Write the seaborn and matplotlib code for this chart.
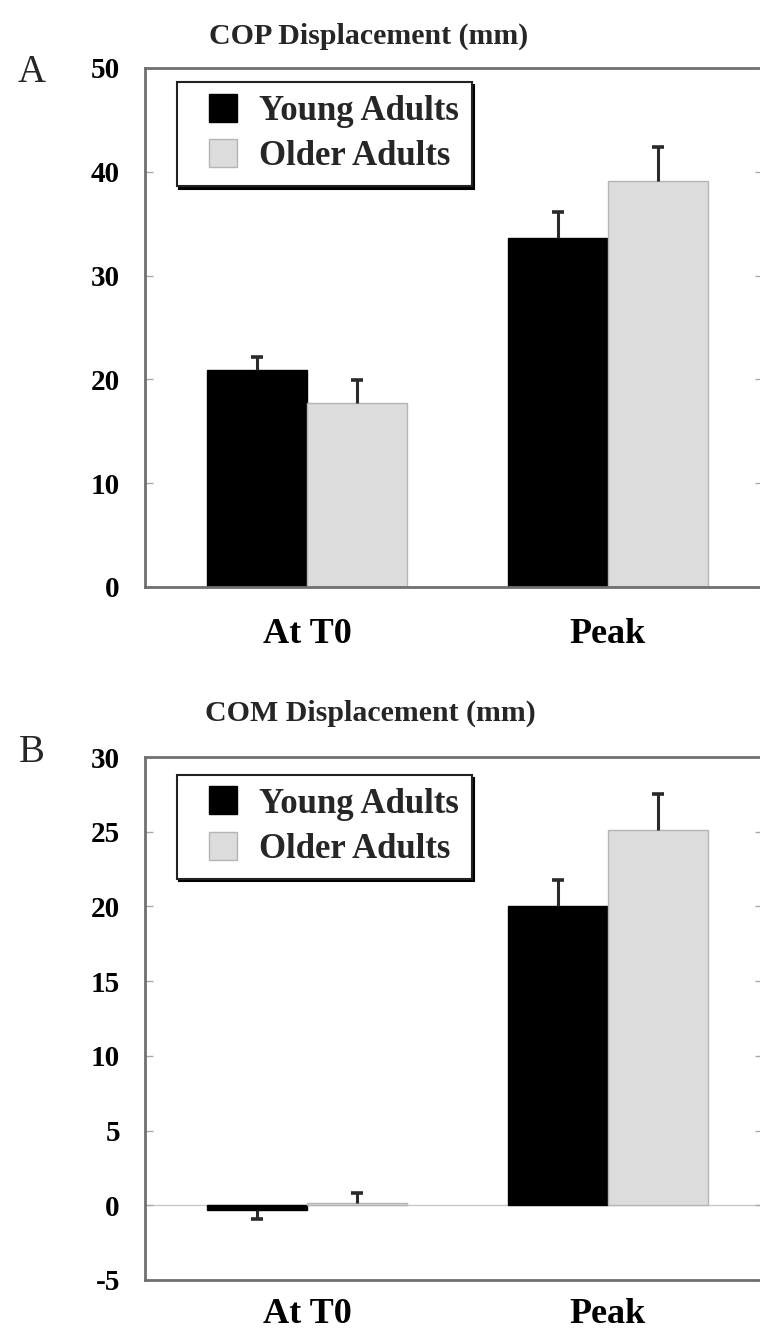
import matplotlib
matplotlib.use("Agg")
import matplotlib.pyplot as plt
from matplotlib.lines import Line2D
import numpy as np
import pandas as pd
import seaborn as sns

# ---- data ----
conditions = ["At T0", "Peak"]
groups = ["Young Adults", "Older Adults"]

cop_young = [20.9, 33.6]
cop_older = [17.7, 39.1]
cop_young_err = [1.3, 2.5]
cop_older_err = [2.2, 3.3]

com_young = [-0.3, 20.0]
com_older = [0.15, 25.1]
com_young_err = [0.6, 1.8]
com_older_err = [0.65, 2.4]

cop_ticks = [0, 10, 20, 30, 40, 50]
com_ticks = [-5, 0, 5, 10, 15, 20, 25, 30]

sns.set_theme(style="white")
plt.rcParams["font.family"] = ["Liberation Serif", "DejaVu Serif"]
plt.rcParams["font.weight"] = "bold"

colors = {"Young Adults": "#000000", "Older Adults": "#dcdcdc"}
edges = {"Young Adults": "#000000", "Older Adults": "#b5b5b5"}
spine_col = "#707070"

fig = plt.figure(figsize=(7.6, 13.37), dpi=100)
W, H = 760, 1337


def add_axes_px(left, top, right, bottom):
    return fig.add_axes([left / W, 1 - bottom / H, (right - left) / W, (bottom - top) / H])


def panel(ax, young, older, yerr_y, yerr_o, ylim, ticks, xpad, legend_top):
    df = pd.DataFrame({
        "cond": conditions * 2,
        "group": [groups[0]] * 2 + [groups[1]] * 2,
        "value": list(young) + list(older),
    })
    sns.barplot(data=df, x="cond", y="value", hue="group", order=conditions,
                hue_order=groups, palette=colors, width=0.665, errorbar=None,
                legend=False, ax=ax, saturation=1)
    errs = {groups[0]: yerr_y, groups[1]: yerr_o}
    for cont, g in zip(ax.containers, groups):
        for bar, e in zip(cont, errs[g]):
            bar.set_edgecolor(edges[g])
            bar.set_linewidth(1.0)
            h = bar.get_height()
            x = bar.get_x() + bar.get_width() / 2
            lo, hi = ([0], [e]) if h >= 0 else ([e], [0])
            _, caps, _ = ax.errorbar(x, h, yerr=[lo, hi], fmt="none",
                                     ecolor="#2a2a2a", elinewidth=2.2,
                                     capsize=4, capthick=2.6, zorder=3)
            # one-sided bar: keep only the cap at the far end
            caps[0 if h >= 0 else 1].set_visible(False)
    ax.set_xlim(-0.538, 1.515)
    ax.set_ylim(*ylim)
    ax.set_yticks(ticks)
    ax.set_yticklabels([str(t) for t in ticks])
    ax.set_xlabel("")
    ax.set_ylabel("")
    ax.axhline(0, color="#c8c8c8", lw=1.0, zorder=0)
    for s in ["left", "bottom", "top", "right"]:
        ax.spines[s].set_color(spine_col)
        ax.spines[s].set_linewidth(2.0)
    ax.spines["right"].set_visible(False)
    ax.tick_params(axis="y", which="both", direction="in", length=6, width=1,
                   color="#aaaaaa", left=True, right=True, labelsize=21,
                   pad=18, labelcolor="black")
    ax.tick_params(axis="x", length=0, labelsize=26, pad=xpad, labelcolor="black")
    for lab in ax.get_xticklabels() + ax.get_yticklabels():
        lab.set_fontweight("bold")
    handles = [Line2D([], [], linestyle="none", marker="s", markersize=20,
                      markerfacecolor=colors[g], markeredgecolor=edges[g],
                      markeredgewidth=1.0, label=g) for g in groups]
    leg = ax.legend(handles=handles, loc="upper left",
                    bbox_to_anchor=(0.051, legend_top), borderaxespad=0,
                    fancybox=False, shadow={"color": "black", "alpha": 1.0},
                    edgecolor="#222222", framealpha=1,
                    handlelength=1.95, handletextpad=0.05,
                    borderpad=0.37, labelspacing=0.35,
                    prop={"weight": "bold", "size": 25})
    leg.get_frame().set_linewidth(1.5)


axA = add_axes_px(145, 68, 763, 587)
panel(axA, cop_young, cop_older, cop_young_err, cop_older_err,
      (0, 50), cop_ticks, 22, 0.973)

axB = add_axes_px(145, 757, 763, 1280)
panel(axB, com_young, com_older, com_young_err, com_older_err,
      (-5, 30), com_ticks, 13, 0.966)

fig.text(369 / W, 1 - 36 / H, "COP Displacement (mm)", ha="center", va="center",
         fontsize=21.5, fontweight="bold")
fig.text(370 / W, 1 - 713 / H, "COM Displacement (mm)", ha="center", va="center",
         fontsize=21.5, fontweight="bold")
fig.text(32 / W, 1 - 72 / H, "A", ha="center", va="center", fontsize=28,
         fontweight="normal")
fig.text(32 / W, 1 - 752 / H, "B", ha="center", va="center", fontsize=28,
         fontweight="normal")

fig.savefig("out.png", dpi=100, facecolor="white")
